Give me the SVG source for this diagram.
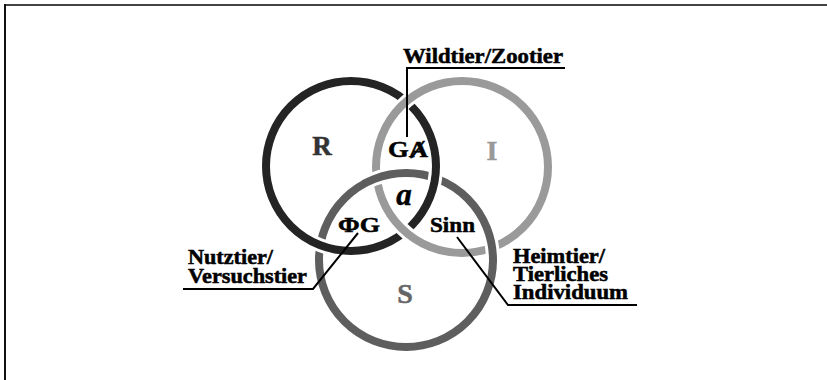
<svg xmlns="http://www.w3.org/2000/svg" width="827" height="380" viewBox="0 0 827 380">
<defs>
<style>
.t{font-family:"Liberation Serif","DejaVu Serif",serif;font-weight:bold;fill:#000;stroke:#000;stroke-width:0.5}
.lbl{font-size:20px}
.halo{fill:none;stroke:#fff;stroke-width:14}
.ring{fill:none;stroke-width:8}
.ln{fill:none;stroke:#000;stroke-width:2}
</style>
<clipPath id="siClip">
<rect x="362" y="163" width="30" height="30"/>
<rect x="477" y="233" width="30" height="30"/>
</clipPath>
</defs>
<rect width="827" height="380" fill="#fff"/>
<g id="frame">
<line x1="4" y1="5" x2="827" y2="5" stroke="#444" stroke-width="2"/>
<line x1="5" y1="4" x2="5" y2="380" stroke="#111" stroke-width="2"/>
</g>
<g id="circle-S">
<circle class="halo" cx="406" cy="260" r="87"/>
<circle class="ring" cx="406" cy="260" r="87" stroke="#5e5e5e"/>
</g>
<g id="circle-R">
<circle class="halo" cx="351" cy="166" r="85"/>
<circle class="ring" cx="351" cy="166" r="85" stroke="#242424"/>
</g>
<g id="circle-I">
<circle class="halo" cx="462" cy="167" r="86"/>
<circle class="ring" cx="462" cy="167" r="86" stroke="#9a9a9a"/>
</g>
<g id="circle-S-over" clip-path="url(#siClip)">
<circle class="halo" cx="406" cy="260" r="87"/>
<circle class="ring" cx="406" cy="260" r="87" stroke="#5e5e5e"/>
</g>
<g id="region-labels">
<text class="t" x="322" y="155" font-size="27" text-anchor="middle" style="fill:#333;stroke:#333">R</text>
<text class="t" x="492" y="160" font-size="28" text-anchor="middle" style="fill:#999;stroke:#999">I</text>
<text class="t" x="405" y="303" font-size="28" text-anchor="middle" style="fill:#666;stroke:#666">S</text>
<text class="t" x="388" y="157" font-size="24" textLength="40" lengthAdjust="spacingAndGlyphs">GȺ</text>
<text class="t" x="404" y="205" font-size="31" text-anchor="middle" font-style="italic">a</text>
<text class="t" x="338" y="232" font-size="22" textLength="42" lengthAdjust="spacingAndGlyphs">ΦG</text>
<text class="t" x="430" y="232" font-size="21" textLength="45" lengthAdjust="spacingAndGlyphs">Sinn</text>
</g>
<g id="connectors">
<polyline class="ln" points="565,68 407,68 407,137"/>
<polyline class="ln" points="183,289 313,289 358,233"/>
<polyline class="ln" points="637,305 508,305 457,237"/>
</g>
<g id="label-wildtier">
<text class="t" x="403" y="63" font-size="21" textLength="160" lengthAdjust="spacingAndGlyphs">Wildtier/Zootier</text>
</g>
<g id="label-nutztier">
<text class="t lbl" x="188" y="264" textLength="85" lengthAdjust="spacingAndGlyphs">Nutztier/</text>
<text class="t lbl" x="188" y="283" textLength="119" lengthAdjust="spacingAndGlyphs">Versuchstier</text>
</g>
<g id="label-heimtier">
<text class="t lbl" x="513" y="263" textLength="92" lengthAdjust="spacingAndGlyphs">Heimtier/</text>
<text class="t lbl" x="513" y="281" textLength="95" lengthAdjust="spacingAndGlyphs">Tierliches</text>
<text class="t lbl" x="513" y="299" textLength="115" lengthAdjust="spacingAndGlyphs">Individuum</text>
</g>
</svg>
